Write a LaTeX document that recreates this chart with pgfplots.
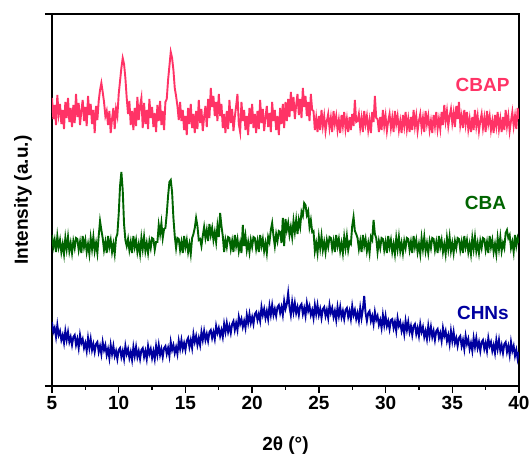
\documentclass[border=0pt]{standalone}
\usepackage{fontspec}
\setmainfont{Liberation Sans}
\usepackage{pgfplots}
\pgfplotsset{compat=1.18}
\usepackage{pgfplotstable}
\definecolor{cbap}{RGB}{255,51,102}
\definecolor{cba}{RGB}{0,100,0}
\definecolor{chns}{RGB}{0,0,160}
\pgfplotstableread{
x p g b
5.0 288 151 64
5.1 267 139 54
5.2 281 146 58
5.3 261 134 49
5.4 291 150 61
5.5 272 139 51
5.6 282 146 55
5.7 262 134 46
5.8 276 142 51
5.9 257 132 43
6.0 284 148 55
6.1 268 137 46
6.2 288 149 54
6.3 264 135 44
6.4 278 143 49
6.5 259 133 41
6.6 281 145 49
6.7 263 138 51
6.8 292 148 41
6.9 269 147 47
7.0 283 136 38
7.1 261 144 51
7.2 275 133 43
7.3 286 150 47
7.4 265 139 38
7.5 279 146 43
7.6 260 134 35
7.7 290 142 48
7.8 271 132 38
7.9 282 148 47
8.0 262 137 36
8.1 276 149 42
8.2 253 135 34
8.3 280 143 42
8.4 266 133 44
8.5 285 150 34
8.6 296 165 40
8.7 303 156 32
8.8 294 148 44
8.9 284 136 36
9.0 270 144 41
9.1 275 133 31
9.2 261 150 37
9.3 275 139 28
9.4 253 146 41
9.5 267 134 32
9.6 278 142 40
9.7 257 132 30
9.8 277 148 35
9.9 270 152 27
10.0 292 172 36
10.1 305 200 38
10.2 318 214 29
10.3 328 196 35
10.4 322 162 27
10.5 308 146 40
10.6 288 140 32
10.7 272 147 37
10.8 285 136 28
10.9 261 144 34
11.0 275 133 26
11.1 256 150 39
11.2 278 139 30
11.3 260 146 39
11.4 289 134 29
11.5 266 142 35
11.6 280 132 27
11.7 288 148 36
11.8 258 137 38
11.9 283 149 29
12.0 262 135 35
12.1 276 143 27
12.2 257 133 40
12.3 287 145 32
12.4 268 138 37
12.5 279 148 28
12.6 259 147 35
12.7 273 136 27
12.8 254 144 40
12.9 281 144 31
13.0 265 161 41
13.1 285 152 31
13.2 261 163 37
13.3 275 148 29
13.4 256 157 38
13.5 284 158 40
13.6 287 172 32
13.7 306 190 38
13.8 320 204 30
13.9 334 206 44
14.0 328 194 36
14.1 316 168 41
14.2 298 150 33
14.3 290 138 39
14.4 280 148 32
14.5 266 147 45
14.6 284 136 37
14.7 265 144 46
14.8 276 133 37
14.9 256 150 43
15.0 270 139 36
15.1 251 146 45
15.2 278 134 48
15.3 262 142 39
15.4 282 132 46
15.5 258 148 38
15.6 272 152 52
15.7 253 158 44
15.8 275 168 50
15.9 257 160 41
16.0 286 146 48
16.1 263 147 41
16.2 277 140 54
16.3 255 150 46
16.4 269 159 55
16.5 280 148 46
16.6 259 156 52
16.7 287 145 45
16.8 268 162 54
16.9 298 151 56
17.0 279 158 48
17.1 290 146 54
17.2 270 154 47
17.3 284 144 60
17.4 265 160 53
17.5 292 149 58
17.6 270 173 50
17.7 282 160 56
17.8 258 150 49
17.9 272 134 62
18.0 253 146 54
18.1 275 139 63
18.2 257 149 54
18.3 286 148 60
18.4 263 137 53
18.5 277 145 62
18.6 255 134 65
18.7 269 151 56
18.8 280 140 63
18.9 292 147 56
19.0 262 135 69
19.1 254 143 62
19.2 284 133 67
19.3 265 161 59
19.4 276 140 65
19.5 256 150 58
19.6 270 136 71
19.7 251 144 63
19.8 278 134 72
19.9 262 146 63
20.0 282 139 69
20.1 258 149 62
20.2 272 148 72
20.3 253 137 74
20.4 275 145 66
20.5 257 134 72
20.6 286 151 65
20.7 263 140 79
20.8 277 147 71
20.9 255 135 77
21.0 269 143 68
21.1 280 133 75
21.2 259 149 67
21.3 273 144 80
21.4 254 156 71
21.5 284 163 81
21.6 265 150 71
21.7 276 140 77
21.8 256 152 70
21.9 270 145 79
22.0 251 155 81
22.1 278 154 73
22.2 262 143 79
22.3 282 168 71
22.4 258 140 85
22.5 284 167 77
22.6 265 156 82
22.7 287 163 93
22.8 269 151 79
22.9 294 159 71
23.0 275 149 84
23.1 289 165 74
23.2 267 154 83
23.3 281 166 73
23.4 292 152 79
23.5 271 166 71
23.6 287 159 80
23.7 268 174 82
23.8 298 170 72
23.9 279 183 78
24.0 290 181 70
24.1 270 171 83
24.2 284 175 75
24.3 265 159 80
24.4 292 166 71
24.5 276 154 76
24.6 275 155 68
24.7 256 135 81
24.8 268 143 72
24.9 254 133 81
25.0 270 149 71
25.1 256 138 77
25.2 276 150 68
25.3 260 136 77
25.4 270 144 79
25.5 255 134 70
25.6 265 146 76
25.7 272 139 68
25.8 258 149 81
25.9 268 148 73
26.0 254 137 78
26.1 275 145 69
26.2 262 134 75
26.3 270 151 66
26.4 256 140 79
26.5 266 147 70
26.6 253 135 79
26.7 271 143 69
26.8 260 133 75
26.9 274 149 67
27.0 257 138 76
27.1 267 150 78
27.2 254 136 69
27.3 269 144 75
27.4 256 142 67
27.5 272 160 80
27.6 260 169 71
27.7 286 155 76
27.8 264 152 67
27.9 265 148 73
28.0 272 137 65
28.1 258 145 78
28.2 268 134 68
28.3 254 151 77
28.4 275 140 90
28.5 262 147 73
28.6 270 135 65
28.7 256 143 73
28.8 266 133 75
28.9 253 149 65
29.0 274 146 70
29.1 264 166 62
29.2 290 152 74
29.3 268 148 66
29.4 267 134 70
29.5 254 145 61
29.6 269 138 66
29.7 256 148 58
29.8 276 147 71
29.9 260 136 61
30.0 270 144 70
30.1 255 133 60
30.2 265 150 65
30.3 272 139 57
30.4 258 146 66
30.5 268 134 67
30.6 254 142 58
30.7 275 132 64
30.8 262 148 55
30.9 270 137 68
31.0 256 149 60
31.1 265 135 64
31.2 253 143 55
31.3 271 133 61
31.4 260 145 52
31.5 274 138 65
31.6 257 148 56
31.7 267 147 64
31.8 254 136 54
31.9 269 144 60
32.0 256 133 51
32.1 276 150 60
32.2 260 139 62
32.3 270 146 52
32.4 255 134 58
32.5 265 142 50
32.6 272 132 62
32.7 258 148 54
32.8 268 137 59
32.9 254 149 49
33.0 275 135 55
33.1 262 143 47
33.2 270 133 60
33.3 256 145 50
33.4 265 138 59
33.5 253 148 49
33.6 271 147 55
33.7 260 136 46
33.8 274 144 55
33.9 257 133 57
34.0 267 150 48
34.1 257 139 53
34.2 274 146 45
34.3 261 134 58
34.4 281 142 50
34.5 265 132 55
34.6 275 148 45
34.7 260 137 51
34.8 270 149 42
34.9 277 135 55
35.0 263 143 45
35.1 273 133 54
35.2 259 145 43
35.3 280 138 48
35.4 267 148 40
35.5 284 147 48
35.6 261 136 50
35.7 270 144 40
35.8 258 133 46
35.9 276 150 37
36.0 262 139 50
36.1 274 146 42
36.2 257 134 47
36.3 267 142 37
36.4 254 132 43
36.5 269 148 35
36.6 256 137 48
36.7 276 149 39
36.8 260 135 48
36.9 270 143 38
37.0 255 133 44
37.1 265 145 35
37.2 272 138 44
37.3 258 148 46
37.4 268 147 37
37.5 254 136 43
37.6 275 144 35
37.7 262 133 48
37.8 270 150 40
37.9 256 139 44
38.0 265 146 35
38.1 253 134 41
38.2 271 142 33
38.3 260 132 46
38.4 274 148 37
38.5 257 137 46
38.6 267 149 35
38.7 254 135 41
38.8 269 143 33
38.9 256 138 42
39.0 276 153 44
39.1 260 156 34
39.2 270 148 40
39.3 255 151 31
39.4 265 138 44
39.5 274 144 35
39.6 260 134 40
39.7 270 151 30
39.8 257 140 36
39.9 278 148 27
40.0 267 143 34
}\xrd
\begin{document}
\begin{tikzpicture}
\begin{axis}[
  scale only axis, width=467pt, height=372pt,
  xmin=5, xmax=40, ymin=0, ymax=372,
  xtick={5,10,...,40}, minor x tick num=1,
  ytick={0,372}, yticklabels={},
  tick align=outside, tick pos=left,
  major tick length=7pt, minor tick length=4pt,
  axis line style={line width=1.8pt},
  every tick/.style={line width=1.4pt, black},
  /pgf/number format/assume math mode=true,
  ticklabel style={font=\bfseries\fontsize{19}{19}\selectfont},
  xlabel={2θ (°)},
  ylabel={Intensity (a.u.)},
  every axis x label/.style={at={(axis description cs:0.5,-0.159)}, anchor=center, font=\bfseries\fontsize{19}{19}\selectfont},
  every axis y label/.style={at={(axis description cs:-0.062,0.5)}, rotate=90, anchor=center, font=\bfseries\fontsize{19}{19}\selectfont},
  clip=true,
]
\addplot[chns, line width=1.9pt] table[x=x,y=b]{\xrd};
\addplot[cba, line width=1.9pt] table[x=x,y=g]{\xrd};
\addplot[cbap, line width=1.9pt] table[x=x,y=p]{\xrd};
\node[anchor=east, text=cbap, font=\bfseries\fontsize{19}{19}\selectfont] at (axis cs:39.55,301) {CBAP};
\node[anchor=east, text=cba, font=\bfseries\fontsize{19}{19}\selectfont] at (axis cs:39.3,183) {CBA};
\node[anchor=east, text=chns, font=\bfseries\fontsize{19}{19}\selectfont] at (axis cs:39.5,73) {CHNs};
\end{axis}
\pgfresetboundingbox
\path (current axis.south west) ++(-52pt,-75pt) rectangle ++(531pt,461pt);
\end{tikzpicture}
\end{document}
